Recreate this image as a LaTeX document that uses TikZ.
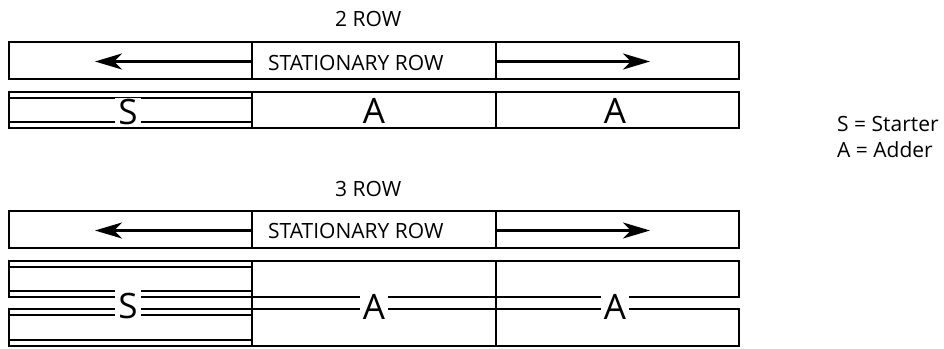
\documentclass[tikz,border=0pt]{standalone}
\usepackage{fontspec}
\setmainfont{Open Sans}
\usetikzlibrary{arrows.meta}
\begin{document}
\begin{tikzpicture}[x=1pt,y=-1pt,
  outer/.style={line width=1.8pt},
  thin/.style={line width=1.2pt},
  arr/.style={line width=2.5pt,-{Stealth[length=27pt,width=16pt,inset=8pt]}},
  big/.style={font=\fontsize{35}{35}\selectfont, inner xsep=3pt, inner ysep=3pt, anchor=base},
  lbl/.style={font=\fontsize{21}{21}\selectfont, inner sep=0pt, anchor=base west},
]
\useasboundingbox (0,0) rectangle (944,348);

% ---------- 2 ROW ----------
\node[lbl] (t2) at (335,27) {2 ROW};
\draw[outer] (9,42) rectangle (739,79);
\draw[outer] (252,42) -- (252,79);
\draw[outer] (496,42) -- (496,79);
\node[lbl] (st1) at (268,70.5) {STATIONARY ROW};
\coordinate (l1s) at (252,61.5); \coordinate (l1e) at (95,61.5);
\coordinate (r1s) at (496,61.5); \coordinate (r1e) at (650,61.5);
\draw[arr] (l1s) -- (l1e);
\draw[arr] (r1s) -- (r1e);

\draw[outer] (9,92) rectangle (739,128);
\draw[outer] (252,92) -- (252,128);
\draw[outer] (496,92) -- (496,128);
\draw[thin] (9,98) -- (252,98);
\draw[thin] (9,122) -- (252,122);
\node[big,fill=white,inner ysep=1pt] (s1) at (128,124.5) {S};
\node[big] (a1) at (374,123.5) {A};
\node[big] (a2) at (615,123.5) {A};

% legend
\node[lbl] (leg1) at (837,131) {S = Starter};
\node[lbl] (leg2) at (837,157) {A = Adder};

% ---------- 3 ROW ----------
\node[lbl] (t3) at (335,196) {3 ROW};
\draw[outer] (9,211) rectangle (739,248);
\draw[outer] (252,211) -- (252,248);
\draw[outer] (496,211) -- (496,248);
\node[lbl] (st2) at (268,238.5) {STATIONARY ROW};
\coordinate (l2s) at (252,230.5); \coordinate (l2e) at (95,230.5);
\coordinate (r2s) at (496,230.5); \coordinate (r2e) at (650,230.5);
\draw[arr] (l2s) -- (l2e);
\draw[arr] (r2s) -- (r2e);

\draw[outer] (9,261) rectangle (739,297);
\draw[outer] (9,309) rectangle (739,346);
\draw[outer] (252,261) -- (252,346);
\draw[outer] (496,261) -- (496,346);
\draw[thin] (9,267) -- (252,267);
\draw[thin] (9,291) -- (252,291);
\draw[thin] (9,315) -- (252,315);
\draw[thin] (9,340) -- (252,340);
\node[big,fill=white] (s2) at (128,318) {S};
\node[big,fill=white] (a3) at (374,319) {A};
\node[big,fill=white] (a4) at (615,319) {A};
\end{tikzpicture}
\end{document}
